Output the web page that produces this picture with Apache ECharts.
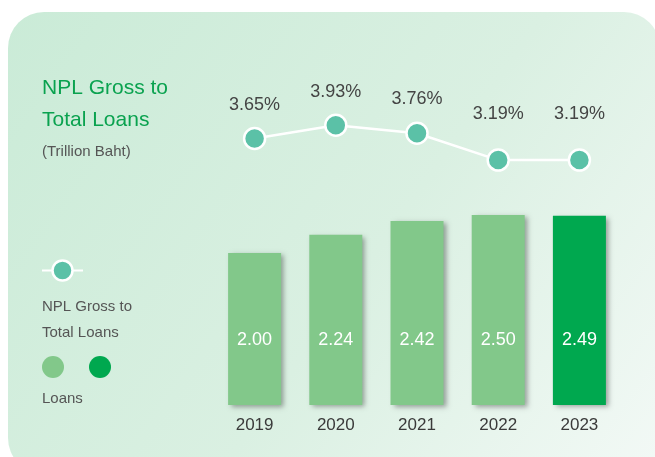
<!DOCTYPE html>
<html>
<head>
<meta charset="utf-8">
<script src="https://cdn.jsdelivr.net/npm/echarts@6/dist/echarts.min.js"></script>
<style>
  html, body { margin: 0; padding: 0; background: #ffffff; }
  #main { width: 655px; height: 457px; }
</style>
</head>
<body>
<div id="main"></div>
<script>
// data
var years = ['2019', '2020', '2021', '2022', '2023'];
var loans = [2.00, 2.24, 2.42, 2.50, 2.49];
var nplRatio = [3.65, 3.93, 3.76, 3.19, 3.19];
// the last two percentage labels sit a bit higher above their points
var labelGap = [13, 13, 13, 25, 25];

var FONT = '"Liberation Sans", Arial, sans-serif';
var lightGreen = '#82c88a';
var darkGreen = '#00a84f';
var teal = '#5bc1a7';

var myChart = echarts.init(document.getElementById('main'));

var barData = loans.map(function (v, i) {
  return {
    value: v,
    itemStyle: { color: i === loans.length - 1 ? darkGreen : lightGreen }
  };
});

var lineData = nplRatio.map(function (v, i) {
  return { value: v, label: { distance: labelGap[i] } };
});

var option = {
  backgroundColor: '#ffffff',
  animation: false,
  graphic: [
    {
      // card background
      type: 'rect',
      z: -10,
      shape: { x: 8, y: 12, width: 652, height: 462, r: 36 },
      style: {
        fill: new echarts.graphic.LinearGradient(0, 0, 1, 1, [
          { offset: 0, color: '#caebd7' },
          { offset: 0.55, color: '#daf0e2' },
          { offset: 1, color: '#f3f9f6' }
        ])
      }
    },
    { type: 'text', left: 42, top: 78, style: { text: 'NPL Gross to', font: '21px ' + FONT, fill: '#0aa24f' } },
    { type: 'text', left: 42, top: 110, style: { text: 'Total Loans', font: '21px ' + FONT, fill: '#0aa24f' } },
    { type: 'text', left: 42, top: 144, style: { text: '(Trillion Baht)', font: '15px ' + FONT, fill: '#555555' } },
    // legend: line series
    { type: 'line', shape: { x1: 42, y1: 270.5, x2: 83, y2: 270.5 }, style: { stroke: '#ffffff', lineWidth: 2 } },
    { type: 'circle', shape: { cx: 62.5, cy: 270.5, r: 10 }, style: { fill: teal, stroke: '#ffffff', lineWidth: 2.5 } },
    { type: 'text', left: 42, top: 299, style: { text: 'NPL Gross to', font: '15px ' + FONT, fill: '#555555' } },
    { type: 'text', left: 42, top: 325, style: { text: 'Total Loans', font: '15px ' + FONT, fill: '#555555' } },
    // legend: bars
    { type: 'circle', shape: { cx: 53, cy: 367, r: 11 }, style: { fill: lightGreen } },
    { type: 'circle', shape: { cx: 100, cy: 367, r: 11 }, style: { fill: darkGreen } },
    { type: 'text', left: 42, top: 391, style: { text: 'Loans', font: '15px ' + FONT, fill: '#555555' } }
  ],
  grid: [
    { left: 214, width: 406, top: 177, height: 228 },
    { left: 214, width: 406, top: 122, height: 47 }
  ],
  xAxis: [
    {
      type: 'category', gridIndex: 0, data: years,
      axisLine: { show: false }, axisTick: { show: false },
      axisLabel: { color: '#3a3a3a', fontSize: 17, fontFamily: FONT, margin: 12 }
    },
    {
      type: 'category', gridIndex: 1, data: years, show: false
    }
  ],
  yAxis: [
    { type: 'value', gridIndex: 0, min: 0, max: 3, show: false, splitLine: { show: false } },
    { type: 'value', gridIndex: 1, min: 3, max: 4, show: false, splitLine: { show: false } }
  ],
  series: [
    {
      name: 'Loans',
      type: 'bar',
      xAxisIndex: 0,
      yAxisIndex: 0,
      barWidth: 53,
      data: barData,
      itemStyle: {
        shadowColor: 'rgba(0,0,0,0.35)',
        shadowBlur: 5,
        shadowOffsetX: 3,
        shadowOffsetY: 2
      },
      label: {
        show: true,
        position: 'insideBottom',
        distance: 56,
        color: '#ffffff',
        fontSize: 18,
        fontFamily: FONT,
        formatter: function (p) { return p.value.toFixed(2); }
      }
    },
    {
      name: 'NPL Gross to Total Loans',
      type: 'line',
      xAxisIndex: 1,
      yAxisIndex: 1,
      data: lineData,
      symbol: 'circle',
      symbolSize: 21,
      lineStyle: { color: '#ffffff', width: 2.5 },
      itemStyle: { color: teal, borderColor: '#ffffff', borderWidth: 2.5 },
      label: {
        show: true,
        position: 'top',
        color: '#444444',
        fontSize: 18,
        fontFamily: FONT,
        formatter: function (p) { return p.value.toFixed(2) + '%'; }
      }
    }
  ]
};

myChart.setOption(option);
</script>
</body>
</html>
